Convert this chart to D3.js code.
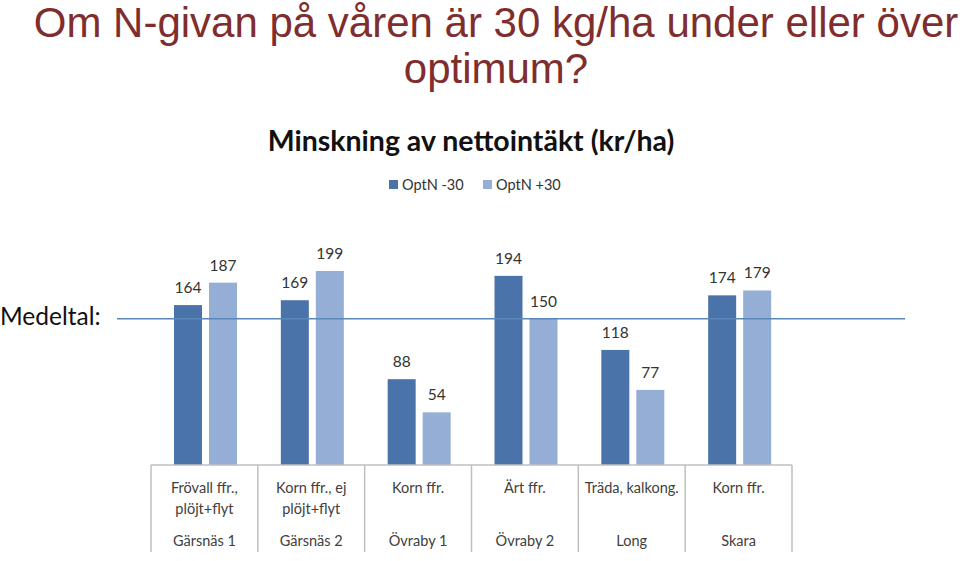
<!DOCTYPE html>
<html>
<head>
<meta charset="utf-8">
<script src="https://cdn.jsdelivr.net/npm/d3@7/dist/d3.min.js"></script>
<style>
	body { margin: 0; background: #fff; }
	svg { display: block; }
</style>
</head>
<body>
<svg id="chart" width="960" height="561"></svg>
<script>
// data
var sites = ["Gärsnäs 1", "Gärsnäs 2", "Övraby 1", "Övraby 2", "Long", "Skara"];
var crops = [["Frövall ffr.,", "plöjt+flyt"], ["Korn ffr., ej", "plöjt+flyt"], ["Korn ffr."], ["Ärt ffr."], ["Träda, kalkong."], ["Korn ffr."]];
var seriesNames = ["OptN -30", "OptN +30"];
var optMinus30 = [164, 169, 88, 194, 118, 174];
var optPlus30 = [187, 199, 54, 150, 77, 179];
var medeltal = 150;

var colors = ["#4a73a9", "#95aed5"];
var labelFont = "Lato, 'Open Sans', sans-serif";

var svg = d3.select("#chart");

// slide heading
svg.append("text")
	.attr("x", 496).attr("y", 37)
	.attr("text-anchor", "middle")
	.attr("font-family", "'Liberation Sans', Arial, sans-serif")
	.attr("font-size", 42)
	.attr("fill", "#7f2d2d")
	.text("Om N-givan på våren är 30 kg/ha under eller över");
svg.append("text")
	.attr("x", 496).attr("y", 83)
	.attr("text-anchor", "middle")
	.attr("font-family", "'Liberation Sans', Arial, sans-serif")
	.attr("font-size", 42)
	.attr("fill", "#7f2d2d")
	.text("optimum?");

// chart title
svg.append("text")
	.attr("x", 471).attr("y", 151)
	.attr("text-anchor", "middle")
	.attr("font-family", labelFont)
	.attr("font-weight", "bold")
	.attr("font-size", 28.5)
	.attr("fill", "#111")
	.text("Minskning av nettointäkt (kr/ha)");

// legend
var legendX = [389, 483];
seriesNames.forEach(function(name, i) {
	svg.append("rect")
		.attr("x", legendX[i]).attr("y", 180)
		.attr("width", 9).attr("height", 9)
		.attr("fill", colors[i]);
	svg.append("text")
		.attr("x", legendX[i] + 13).attr("y", 190)
		.attr("font-family", labelFont)
		.attr("font-size", 14.5)
		.attr("fill", "#333")
		.text(name);
});

var x0 = d3.scaleBand().domain(sites).range([151, 792]);
var x1 = d3.scaleBand().domain(seriesNames).range([23, 86]).paddingInner(0.2);
var y = d3.scaleLinear().domain([0, 200]).range([465, 270]);

var rows = sites.map(function(s, i) {
	return { site: s, crop: crops[i], values: [optMinus30[i], optPlus30[i]] };
});

var groups = svg.selectAll("g.site")
	.data(rows)
	.enter().append("g")
	.attr("class", "site")
	.attr("transform", function(d) { return "translate(" + x0(d.site) + ",0)"; });

groups.selectAll("rect")
	.data(function(d) { return d.values.map(function(v, i) { return { name: seriesNames[i], value: v, i: i }; }); })
	.enter().append("rect")
	.attr("x", function(d) { return x1(d.name); })
	.attr("y", function(d) { return y(d.value); })
	.attr("width", x1.bandwidth())
	.attr("height", function(d) { return y(0) - y(d.value); })
	.attr("fill", function(d) { return colors[d.i]; });

groups.selectAll("text.val")
	.data(function(d) { return d.values.map(function(v, i) { return { name: seriesNames[i], value: v }; }); })
	.enter().append("text")
	.attr("class", "val")
	.attr("x", function(d) { return x1(d.name) + x1.bandwidth() / 2; })
	.attr("y", function(d) { return y(d.value) - 12; })
	.attr("text-anchor", "middle")
	.attr("font-family", labelFont)
	.attr("font-size", 15.5)
	.attr("fill", "#333")
	.text(function(d) { return d.value; });

// category table under the bars
svg.append("line")
	.attr("x1", x0.range()[0]).attr("x2", x0.range()[1])
	.attr("y1", y(0)).attr("y2", y(0))
	.attr("stroke", "#bfbfbf").attr("stroke-width", 1.5);

var dividers = sites.map(function(s) { return x0(s); }).concat([x0.range()[1]]);
svg.selectAll("line.div")
	.data(dividers)
	.enter().append("line")
	.attr("class", "div")
	.attr("x1", function(d) { return d; }).attr("x2", function(d) { return d; })
	.attr("y1", y(0)).attr("y2", 552)
	.attr("stroke", "#bfbfbf").attr("stroke-width", 1.5);

groups.each(function(d) {
	var g = d3.select(this);
	d.crop.forEach(function(line, k) {
		g.append("text")
			.attr("x", x0.bandwidth() / 2)
			.attr("y", 493 + k * 21)
			.attr("text-anchor", "middle")
			.attr("font-family", labelFont)
			.attr("font-size", 14.5)
			.attr("fill", "#404040")
			.text(line);
	});
	g.append("text")
		.attr("x", x0.bandwidth() / 2)
		.attr("y", 546)
		.attr("text-anchor", "middle")
		.attr("font-family", labelFont)
		.attr("font-size", 14.5)
		.attr("fill", "#404040")
		.text(d.site);
});

// average line
svg.append("line")
	.attr("x1", 117).attr("x2", 905)
	.attr("y1", y(medeltal)).attr("y2", y(medeltal))
	.attr("stroke", "#5b88bb").attr("stroke-width", 1.5);

svg.append("text")
	.attr("x", 0).attr("y", y(medeltal) + 6)
	.attr("font-family", labelFont)
	.attr("font-size", 24.5)
	.attr("fill", "#111")
	.text("Medeltal:");
</script>
</body>
</html>
